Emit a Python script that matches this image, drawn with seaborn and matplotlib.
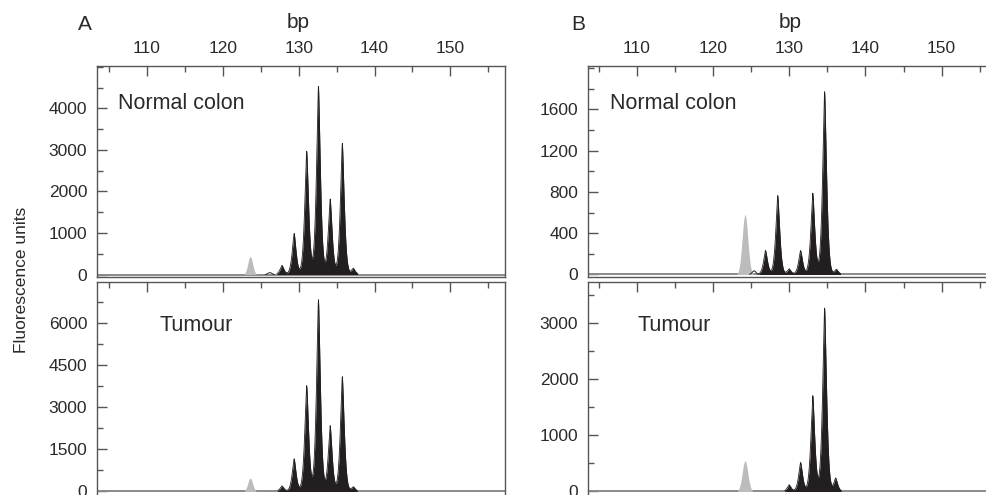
import numpy as np
import matplotlib
matplotlib.use("Agg")
import matplotlib.pyplot as plt
from matplotlib.ticker import MultipleLocator
import seaborn as sns

# ---------------- data ----------------
# Panel A - Normal colon
a_norm_black_bp = [127.8, 129.4, 131.05, 132.6, 134.15, 135.75, 137.2]
a_norm_black_h = [220, 990, 2970, 4530, 1820, 3160, 150]
a_norm_gray_bp = [123.6]
a_norm_gray_h = [430]
a_norm_minor_bp = [126.2]
a_norm_minor_h = [45]
# Panel A - Tumour
a_tum_black_bp = [127.8, 129.4, 131.05, 132.6, 134.15, 135.75, 137.2]
a_tum_black_h = [200, 1170, 3780, 6850, 2350, 4100, 170]
a_tum_gray_bp = [123.6]
a_tum_gray_h = [480]
# Panel B - Normal colon
b_norm_black_bp = [126.9, 128.5, 130.0, 131.5, 133.1, 134.65, 136.2]
b_norm_black_h = [232, 765, 55, 232, 787, 1770, 50]
b_norm_gray_bp = [124.2]
b_norm_gray_h = [580]
b_norm_minor_bp = [125.4]
b_norm_minor_h = [35]
# Panel B - Tumour
b_tum_black_bp = [130.0, 131.5, 133.1, 134.65, 136.1]
b_tum_black_h = [120, 518, 1710, 3275, 240]
b_tum_gray_bp = [124.2]
b_tum_gray_h = [548]

x_major_ticks = [110, 120, 130, 140, 150]
a_norm_yticks = [0, 1000, 2000, 3000, 4000]
a_tum_yticks = [0, 1500, 3000, 4500, 6000]
b_norm_yticks = [0, 400, 800, 1200, 1600]
b_tum_yticks = [0, 1000, 2000, 3000]

# ---------------- style ----------------
sns.set_theme(style="ticks")
plt.rcParams["font.family"] = ["Liberation Sans", "DejaVu Sans"]
TXT = "#2a2a2a"
SPINE = "#555555"
BLACK = "#231f20"
GRAY = "#bcbcbc"

W, H = 986, 495
fig = plt.figure(figsize=(W / 100, H / 100), dpi=100)


def px_axes(left, top, right, bottom):
    return fig.add_axes([left / W, 1 - bottom / H, (right - left) / W, (bottom - top) / H])


def peaks(x, centers, heights, s, p):
    y = np.zeros_like(x)
    for c, h in zip(centers, heights):
        y += h * np.exp(-(np.abs(x - c) / s) ** p)
    return y


def draw(ax, xlim, ylim, black_bp, black_h, gray_bp, gray_h, minor_bp, minor_h,
         yticks, yminor, top_labels, gray_s):
    x = np.linspace(xlim[0], xlim[1], 5000)
    ax.axhline(0, color="#8a8a8a", lw=1.4, zorder=1)
    yg = peaks(x, gray_bp, gray_h, gray_s, 2.0)
    thr_g = 0.004 * (ylim[1] - ylim[0])
    ax.fill_between(x, 0, yg, where=yg > thr_g, color=GRAY, lw=0, zorder=2)
    yb = peaks(x, black_bp, black_h, 0.37, 1.45)
    thr = 0.004 * (ylim[1] - ylim[0])
    ax.fill_between(x, 0, yb, where=yb > thr, color=BLACK, lw=0, zorder=3)
    sns.lineplot(x=x, y=np.where(yb > thr, yb, np.nan), color=BLACK, lw=0.6, ax=ax, zorder=3)
    if minor_bp:
        ym = peaks(x, minor_bp, minor_h, 0.35, 2.0)
        sns.lineplot(x=x, y=np.where(ym > 2, ym, np.nan), color=BLACK, lw=0.7, ax=ax, zorder=4)
    ax.set_xlim(*xlim)
    ax.set_ylim(*ylim)
    ax.set_xticks(x_major_ticks)
    ax.xaxis.set_minor_locator(MultipleLocator(5))
    ax.set_yticks(yticks)
    ax.yaxis.set_minor_locator(MultipleLocator(yminor))
    ax.tick_params(axis="both", which="both", direction="in", color=SPINE, width=1,
                   labelsize=12.5, labelcolor=TXT)
    ax.tick_params(axis="both", which="major", length=7, pad=7)
    ax.tick_params(axis="both", which="minor", length=4)
    ax.tick_params(axis="x", which="both", top=True, bottom=False,
                   labeltop=top_labels, labelbottom=False)
    ax.tick_params(axis="y", which="both", left=True, right=False)
    ax.set_xlabel("")
    ax.set_ylabel("")
    for sp in ax.spines.values():
        sp.set_visible(True)
        sp.set_color(SPINE)
        sp.set_linewidth(1)
    ax.set_facecolor("white")


# Panel A
axA1 = px_axes(97, 65.7, 505, 276.5)
draw(axA1, (103.4, 157.2), (-48, 5031), a_norm_black_bp, a_norm_black_h,
     a_norm_gray_bp, a_norm_gray_h, a_norm_minor_bp, a_norm_minor_h,
     a_norm_yticks, 500, True, 0.45)
axA2 = px_axes(97, 282, 505, 500)
draw(axA2, (103.4, 157.2), (-304, 7482), a_tum_black_bp, a_tum_black_h,
     a_tum_gray_bp, a_tum_gray_h, [], [], a_tum_yticks, 750, False, 0.45)

# Panel B
axB1 = px_axes(588, 65.7, 998, 276.5)
draw(axB1, (103.6, 157.4), (-19.4, 2022), b_norm_black_bp, b_norm_black_h,
     b_norm_gray_bp, b_norm_gray_h, b_norm_minor_bp, b_norm_minor_h,
     b_norm_yticks, 200, True, 0.52)
axB2 = px_axes(588, 282, 998, 500)
draw(axB2, (103.6, 157.4), (-152, 3741), b_tum_black_bp, b_tum_black_h,
     b_tum_gray_bp, b_tum_gray_h, [], [], b_tum_yticks, 500, False, 0.52)


def ftext(x, y, s, **kw):
    fig.text(x / W, 1 - y / H, s, color=TXT, **kw)


ftext(85, 24, "A", fontsize=15, ha="center", va="center")
ftext(578, 24, "B", fontsize=15, ha="center", va="center")
ftext(298, 22, "bp", fontsize=15, ha="center", va="center")
ftext(790, 22, "bp", fontsize=15, ha="center", va="center")
ftext(118, 109, "Normal colon", fontsize=15.5, ha="left", va="baseline")
ftext(610, 109, "Normal colon", fontsize=15.5, ha="left", va="baseline")
ftext(160, 331, "Tumour", fontsize=15.5, ha="left", va="baseline")
ftext(637, 331, "Tumour", fontsize=15.5, ha="left", va="baseline")
ftext(22, 280, "Fluorescence units", fontsize=12.5, ha="center", va="center", rotation=90)

fig.savefig("out.png", dpi=100)
